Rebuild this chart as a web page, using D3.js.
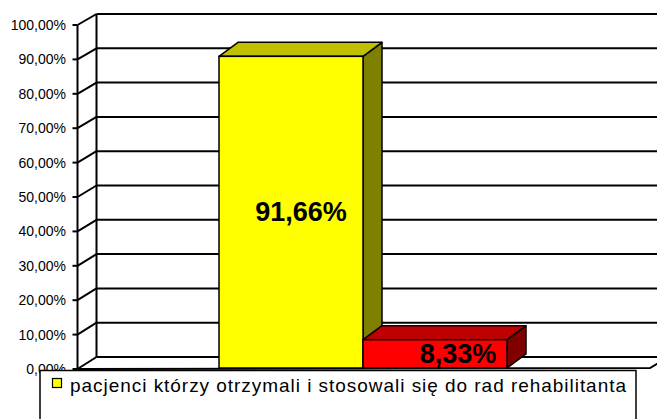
<!DOCTYPE html>
<html><head><meta charset="utf-8">
<script src="https://cdn.jsdelivr.net/npm/d3@7"></script>
<style>body{margin:0;background:#fff}svg{display:block}text{font-family:"Liberation Sans",Arial,sans-serif}</style>
</head><body>
<svg id="c" width="657" height="419"></svg>
<script>
const seriesValues = [0.9166, 0.0833];
const valueLabels = ["91,66%", "8,33%"];
const frontColors = ["#FFFF00", "#FF0000"];
const topColors = ["#C0C000", "#C00000"];
const sideColors = ["#808000", "#800000"];
const tickValues = [0, 0.1, 0.2, 0.3, 0.4, 0.5, 0.6, 0.7, 0.8, 0.9, 1.0];
const tickLabels = ["0,00%", "10,00%", "20,00%", "30,00%", "40,00%", "50,00%", "60,00%", "70,00%", "80,00%", "90,00%", "100,00%"];
const legendNames = ["pacjenci którzy otrzymali i stosowali się do rad rehabilitanta"];

const svg = d3.select("#c");
const W = 657;
const yFront = d3.scaleLinear().domain([0, 1]).range([369, 25]);
const yBack = d3.scaleLinear().domain([0, 1]).range([357, 14]);
const yBar = d3.scaleLinear().domain([0, 1]).range([368, 28]);
const xFront = 77.5, xBack = 96.5;
const x = d3.scaleBand().domain(d3.range(seriesValues.length)).range([219, 507]).paddingInner(0);
const bdx = 19, bdy = -14;

svg.append("g").selectAll("line").data(tickValues).join("line")
  .attr("x1", xBack).attr("x2", W).attr("y1", d => yBack(d)).attr("y2", d => yBack(d))
  .attr("stroke", "#000").attr("stroke-width", 2);
svg.append("line").attr("x1", xBack).attr("x2", xBack).attr("y1", yBack(1)).attr("y2", yBack(0))
  .attr("stroke", "#000").attr("stroke-width", 2);
svg.append("g").selectAll("line").data(tickValues).join("line")
  .attr("x1", xFront).attr("x2", xBack).attr("y1", d => yFront(d)).attr("y2", d => yBack(d))
  .attr("stroke", "#000").attr("stroke-width", 2);
svg.append("line").attr("x1", xFront).attr("x2", xFront).attr("y1", yFront(1)).attr("y2", yFront(0))
  .attr("stroke", "#000").attr("stroke-width", 2);
svg.append("g").selectAll("line").data(tickValues).join("line")
  .attr("x1", xFront - 5).attr("x2", xFront).attr("y1", d => yFront(d)).attr("y2", d => yFront(d))
  .attr("stroke", "#000").attr("stroke-width", 2);
svg.append("path").attr("d", `M${xFront},${yFront(0)} L650,368 L${650 + 19},${yBack(0)}`)
  .attr("fill", "none").attr("stroke", "#000").attr("stroke-width", 2);

svg.append("g").selectAll("text").data(tickValues).join("text")
  .attr("x", 66).attr("y", d => yFront(d)).attr("dy", "0.36em")
  .attr("text-anchor", "end").attr("font-size", 14).attr("fill", "#000")
  .text((d, i) => tickLabels[i]);

const bars = svg.append("g").selectAll("g").data(seriesValues).join("g");
bars.each(function (v, i) {
  const g = d3.select(this);
  const x0 = x(i), x1 = x(i) + x.bandwidth();
  const yt = yBar(v), yb = yBar(0);
  g.append("path").attr("d", `M${x1},${yt} L${x1 + bdx},${yt + bdy} L${x1 + bdx},${yb + bdy} L${x1},${yb} Z`)
    .attr("fill", sideColors[i]).attr("stroke", "#000").attr("stroke-width", 1.5).attr("stroke-linejoin", "round");
  g.append("path").attr("d", `M${x0},${yt} L${x0 + bdx},${yt + bdy} L${x1 + bdx},${yt + bdy} L${x1},${yt} Z`)
    .attr("fill", topColors[i]).attr("stroke", "#000").attr("stroke-width", 1.5).attr("stroke-linejoin", "round");
  g.append("rect").attr("x", x0).attr("y", yt).attr("width", x.bandwidth()).attr("height", yb - yt)
    .attr("fill", frontColors[i]).attr("stroke", "#000").attr("stroke-width", 1.5);
});
const labelDx = [82, 95];
svg.append("g").selectAll("text").data(seriesValues).join("text")
  .attr("x", (d, i) => x(i) + labelDx[i])
  .attr("y", d => (yBar(d) + yBar(0)) / 2 + 9)
  .attr("text-anchor", "middle").attr("font-size", 27).attr("font-weight", "bold").attr("fill", "#000")
  .text((d, i) => valueLabels[i]);

const lg = svg.append("g");
lg.append("rect").attr("x", 40).attr("y", 370.5).attr("width", 596).attr("height", 80)
  .attr("fill", "#fff").attr("stroke", "#000").attr("stroke-width", 1.5);
lg.selectAll("g.item").data(legendNames).join("g").attr("class", "item").each(function (n, i) {
  const it = d3.select(this);
  it.append("rect").attr("x", 52.5).attr("y", 378.5 + i * 22).attr("width", 9).attr("height", 9)
    .attr("fill", frontColors[i]).attr("stroke", "#000").attr("stroke-width", 1.2);
  it.append("text").attr("x", 70).attr("y", 392 + i * 22).attr("font-size", 19).attr("fill", "#000")
    .attr("textLength", 556).attr("lengthAdjust", "spacing").text(n);
});
</script>
</body></html>
